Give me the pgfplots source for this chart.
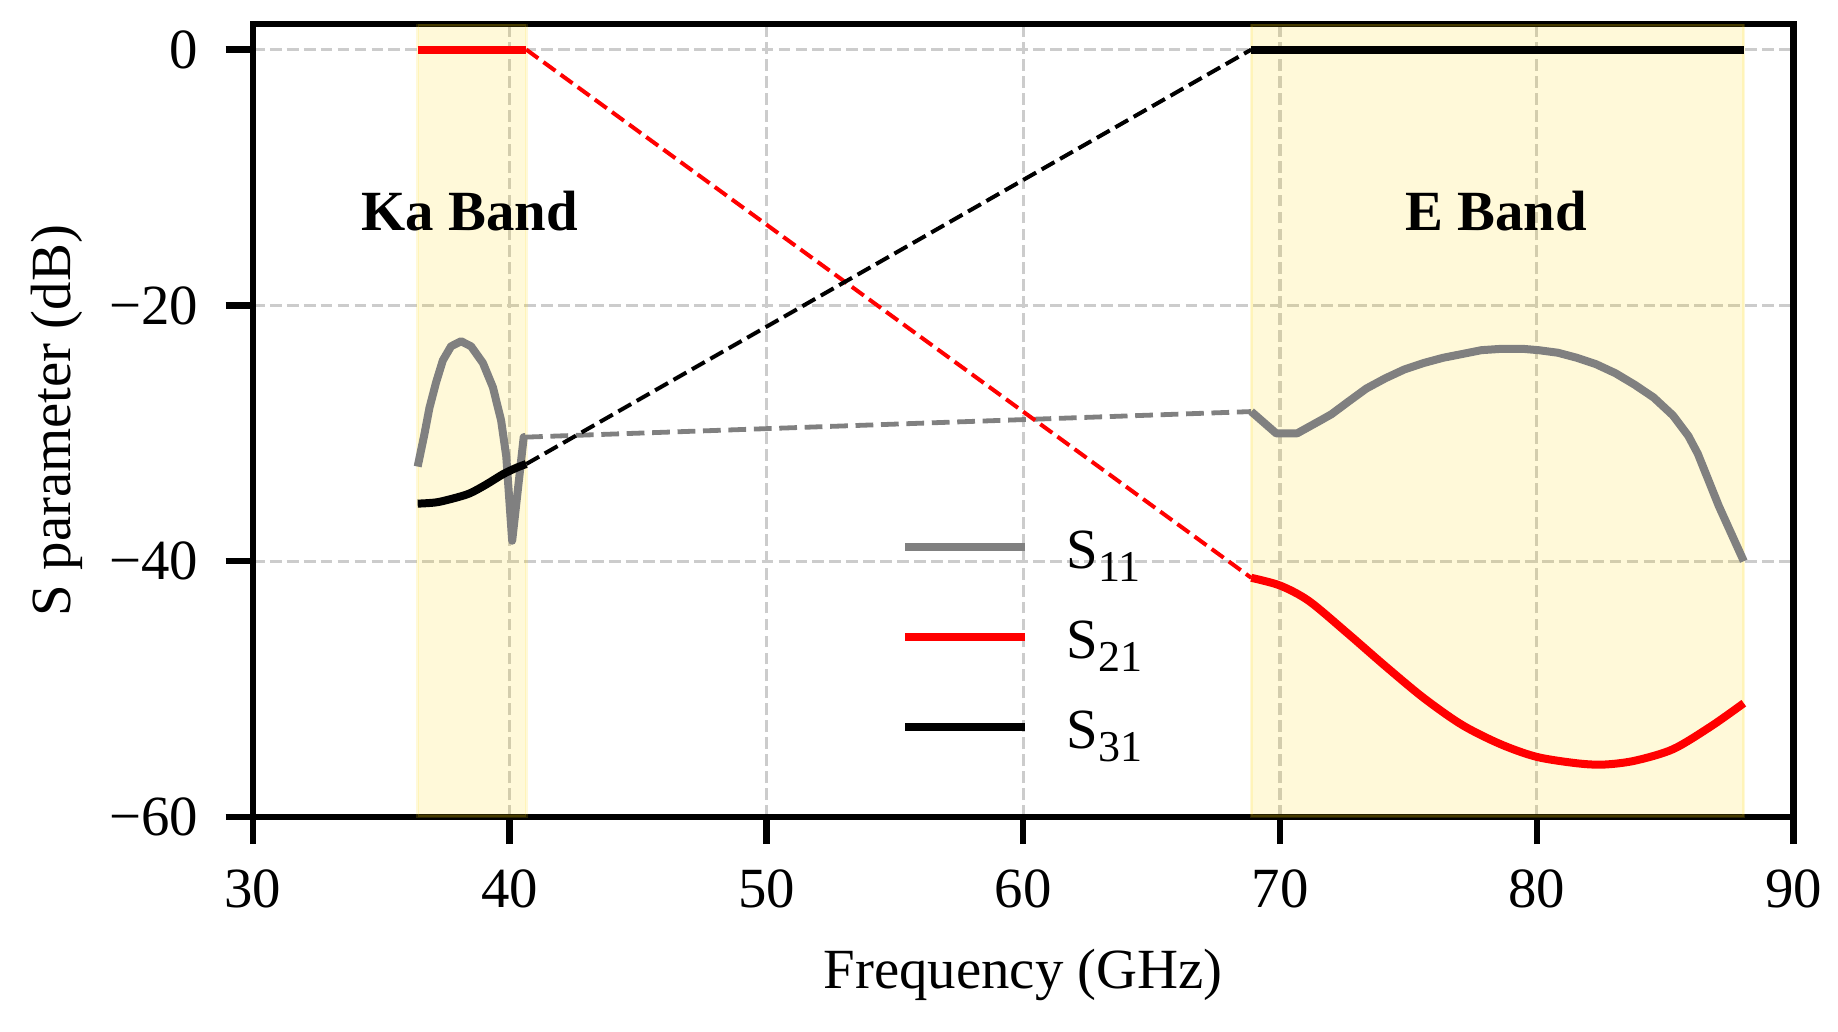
\documentclass[border=0pt]{standalone}
\usepackage{fontspec}
\setmainfont{Liberation Serif}
\usepackage{pgfplots}
\pgfplotsset{compat=1.18}
\definecolor{shade}{rgb}{1,0.843,0}
\definecolor{mgray}{HTML}{808080}
\newcommand{\fsz}{\fontsize{14.2}{17}\selectfont}
\newcommand{\sub}[1]{\raisebox{-3.35pt}{\fontsize{11}{11}\selectfont #1}}
\begin{document}
\fsz
\begin{tikzpicture}
\begin{axis}[
  name=ax, at={(0,0)}, anchor=south west,
  scale only axis, width=385.2pt, height=198.25pt,
  xmin=30, xmax=90, ymin=-60, ymax=2,
  xtick={30,40,50,60,70,80,90}, xticklabels={30,40,50,60,70,80,90},
  ytick={-60,-40,-20,0}, yticklabels={−60,−40,−20,0},
  tick pos=left, tick align=outside,
  major tick length=6.8pt,
  major tick style={black, line width=1.6pt},
  axis line style={line width=1.6pt},
  grid=major,
  grid style={gray!40, line width=0.8pt, dash pattern=on 2.96pt off 1.28pt},
  tick label style={font=\fsz},
  xticklabel style={anchor=base, inner sep=0pt, yshift=-15.9pt},
  yticklabel style={anchor=east, inner sep=0pt, xshift=-6.6pt},
  label style={font=\fsz},
  xlabel={Frequency (GHz)},
  ylabel={S parameter (dB)},
  xlabel style={at={(axis description cs:0.5,0)}, anchor=base, yshift=-42.75pt, inner sep=0pt},
  ylabel style={at={(axis description cs:-0.1186,0.5)}, anchor=base, inner sep=0pt},
  legend style={draw=none, fill=none, font=\fsz,
    at={(axis description cs:0.4207,0.3642)}, anchor=north west,
    inner sep=0pt, outer sep=0pt, row sep=8.5pt,
    cells={anchor=base west},
    nodes={inner sep=0pt, text height=10pt, text depth=4pt},
    /tikz/every odd column/.append style={column sep=9.4pt}},
  legend image code/.code={\draw[#1] (0pt,5.4pt) -- (30pt,5.4pt);},
]
% band shading
\addplot[fill=shade, draw=shade, line width=0.8pt, opacity=0.15, forget plot]
  coordinates {(36.42,-60) (36.42,2) (40.65,2) (40.65,-60)} -- cycle;
\addplot[fill=shade, draw=shade, line width=0.8pt, opacity=0.15, forget plot]
  coordinates {(68.88,-60) (68.88,2) (88.06,2) (88.06,-60)} -- cycle;

% Ka band, legend-bearing
\addplot[mgray, line width=2pt, line join=round] coordinates {
(36.42,-32.6) (36.68,-30.1) (36.88,-28.0) (37.14,-26.0) (37.40,-24.3)
(37.72,-23.2) (38.11,-22.8) (38.50,-23.2) (38.96,-24.5) (39.35,-26.4)
(39.67,-29.0) (39.87,-31.8) (40.10,-38.4) (40.55,-30.3) (40.60,-30.3)
};
\addplot[red, line width=2pt] coordinates {(36.42,0) (40.65,0)};
\addplot[black, line width=2pt, smooth] coordinates {
(36.42,-35.5) (37.14,-35.4) (37.79,-35.1) (38.44,-34.7) (39.09,-34.0)
(39.74,-33.2) (40.26,-32.7) (40.65,-32.4)
};

% connectors
\addplot[mgray, line width=1.2pt, dash pattern=on 4.44pt off 1.92pt, forget plot]
  coordinates {(40.60,-30.3) (68.88,-28.3)};
\addplot[red, line width=1pt, dash pattern=on 3.7pt off 1.6pt, forget plot]
  coordinates {(40.65,0) (68.88,-41.3)};
\addplot[black, line width=1pt, dash pattern=on 3.7pt off 1.6pt, forget plot]
  coordinates {(40.65,-32.4) (68.88,0)};

% E band
\addplot[mgray, line width=2pt, line join=round, forget plot] coordinates {
(68.88,-28.3) (69.85,-30.0) (70.67,-30.0) (71.57,-29.0) (72.01,-28.5)
(72.61,-27.6) (73.36,-26.5) (74.10,-25.7) (74.85,-25.0) (75.60,-24.5)
(76.34,-24.1) (77.09,-23.8) (77.84,-23.5) (78.58,-23.4) (79.48,-23.4)
(80.07,-23.5) (80.82,-23.7) (81.57,-24.1) (82.31,-24.6) (83.06,-25.3)
(83.81,-26.2) (84.55,-27.2) (85.30,-28.6) (85.90,-30.2) (86.27,-31.6)
(87.09,-35.7) (88.06,-40.0)
};
\addplot[red, line width=2pt, smooth, forget plot] coordinates {
(68.88,-41.3) (70.00,-41.9) (71.12,-43.1) (72.61,-45.6) (74.10,-48.2)
(75.60,-50.7) (77.09,-52.8) (78.58,-54.3) (80.00,-55.3) (81.57,-55.8)
(82.61,-55.9) (83.81,-55.6) (85.30,-54.7) (86.79,-52.9) (88.06,-51.1)
};
\addplot[black, line width=2pt, forget plot] coordinates {(68.88,0) (88.06,0)};

\node[font=\fsz\bfseries, anchor=base, inner sep=0pt] at (axis cs:38.45,-14.15) {Ka Band};
\node[font=\fsz\bfseries, anchor=base, inner sep=0pt] at (axis cs:78.42,-14.15) {E Band};

\legend{S\sub{11}, S\sub{21}, S\sub{31}}
\end{axis}
\pgfresetboundingbox
\path (-63.2pt,-53.5pt) rectangle (396.3pt,204.25pt);
\end{tikzpicture}
\end{document}
